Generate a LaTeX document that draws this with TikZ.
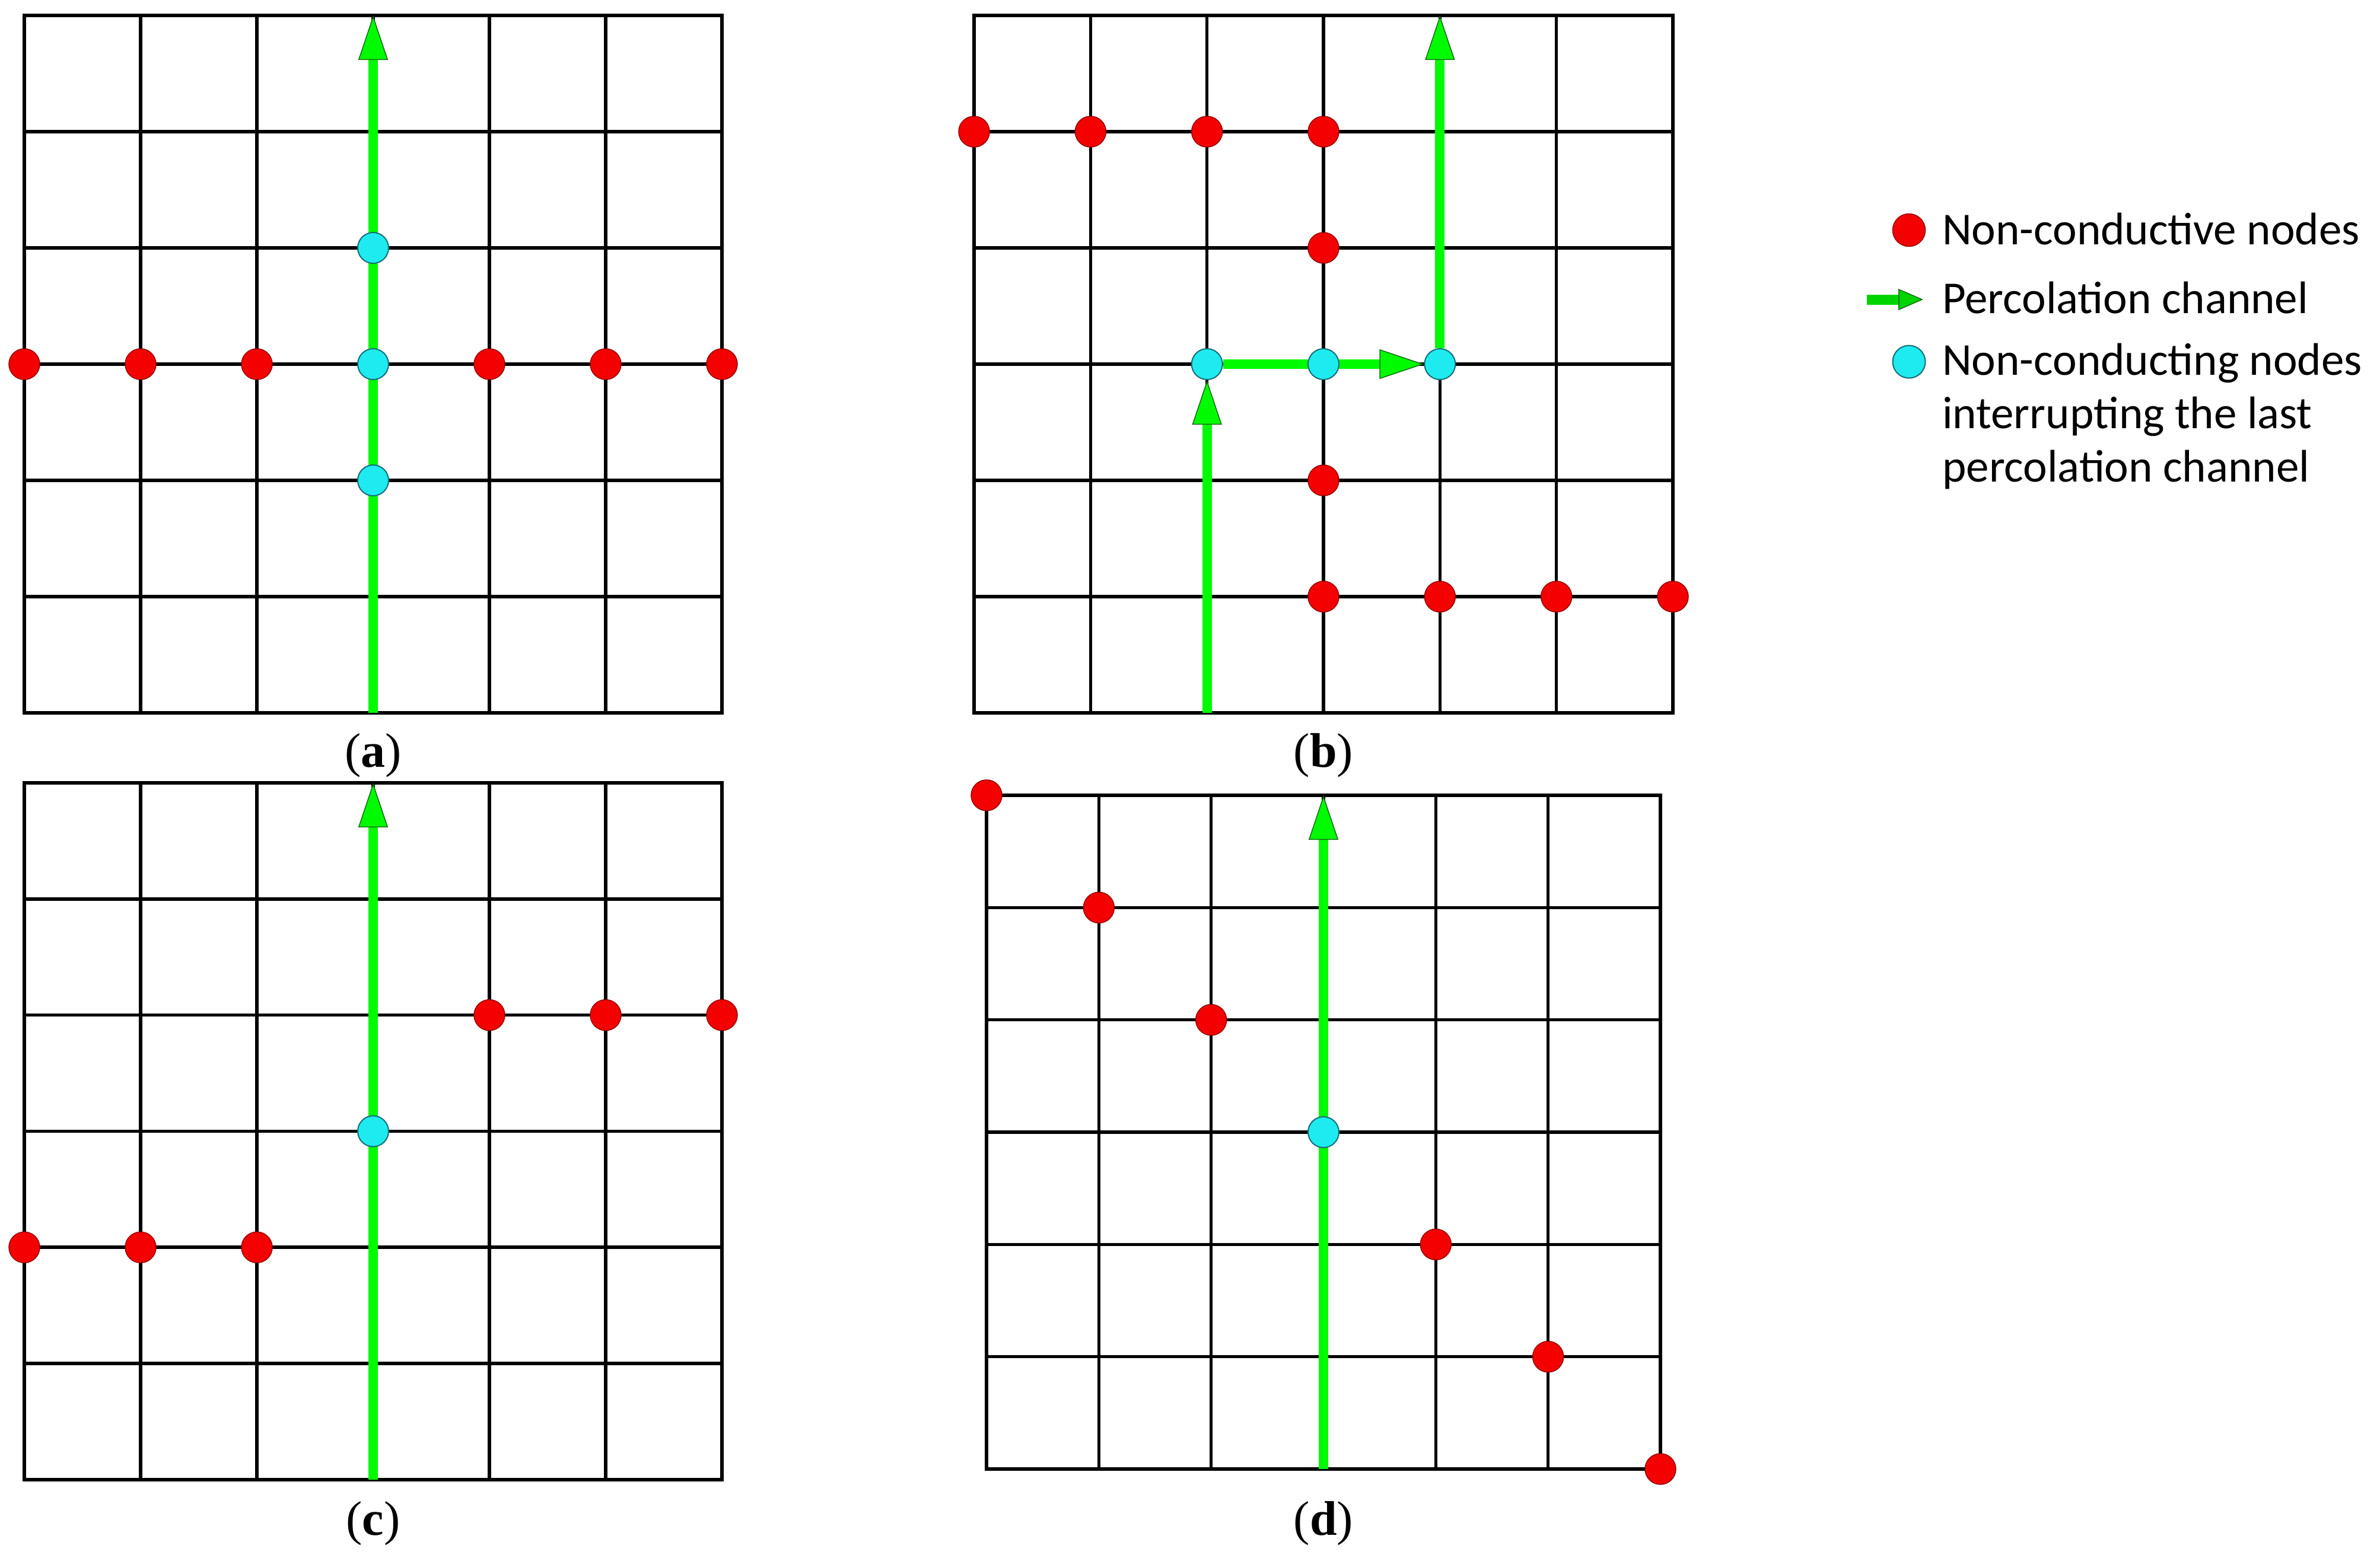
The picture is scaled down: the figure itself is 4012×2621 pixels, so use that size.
\documentclass[tikz,border=0pt]{standalone}
\usepackage{fontspec}
\setmainfont{Carlito}
\newfontfamily\labfont{Liberation Serif}
\usetikzlibrary{arrows.meta,backgrounds}
\definecolor{chgreen}{RGB}{0,250,0}
\definecolor{chdark}{RGB}{20,110,20}
\definecolor{rfill}{RGB}{245,0,0}
\definecolor{rdraw}{RGB}{150,0,0}
\definecolor{cfill}{RGB}{30,235,240}
\definecolor{cdraw}{RGB}{20,110,120}
\tikzset{
  gridline/.style={line width=5.5pt, black, line cap=rect},
  rdot/.style={circle, fill=rfill, draw=rdraw, line width=1.5pt, minimum size=52pt, inner sep=0pt},
  cdot/.style={circle, fill=cfill, draw=cdraw, line width=2pt, minimum size=52pt, inner sep=0pt},
  chan/.style={draw=chgreen, line width=16pt, -{Triangle[length=75pt,width=50pt,fill=chgreen,color=chdark,line width=1.5pt]}},
  legchan/.style={draw=chgreen!85!black, line width=17pt, -{Triangle[length=42pt,width=36pt,fill=chgreen!85!black,color=chdark,line width=1.5pt]}},
  legtext/.style={font=\fontsize{77}{90}\selectfont, inner sep=0pt},
  labtext/.style={font=\labfont\fontsize{82}{90}\selectfont, inner sep=0pt, anchor=base},
}
\newcommand\gridlines{%
  \foreach \i in {0,...,6} {
    \draw[gridline] (\i,0) -- (\i,6);
    \draw[gridline] (0,\i) -- (6,\i);
  }}
\begin{document}
\begin{tikzpicture}[x=1pt,y=-1pt]
\useasboundingbox (0,0) rectangle (4012,2621);
\begin{pgfonlayer}{background}
  \fill[white] (0,0) rectangle (4012,2621);
\end{pgfonlayer}

% ---------- panel (a)
\begin{scope}[shift={(41,26)}, x=196pt, y=-196pt]
  \node[rdot] (a-r1) at (0,3) {};
  \node[rdot] (a-r2) at (1,3) {};
  \node[rdot] (a-r3) at (2,3) {};
  \node[rdot] (a-r4) at (4,3) {};
  \node[rdot] (a-r5) at (5,3) {};
  \node[rdot] (a-r6) at (6,3) {};
  \node[cdot] (a-c1) at (3,2) {};
  \node[cdot] (a-c2) at (3,3) {};
  \node[cdot] (a-c3) at (3,4) {};
  \coordinate (a-bot) at (3,6);
  \coordinate (a-top) at (3,0);
  \begin{pgfonlayer}{background}
    \gridlines
    \draw[chan] (a-bot) -- (a-top);
  \end{pgfonlayer}
\end{scope}

% ---------- panel (b)
\begin{scope}[shift={(1642,26)}, x=196.33pt, y=-196pt]
  \node[rdot] (b-r1) at (0,1) {};
  \node[rdot] (b-r2) at (1,1) {};
  \node[rdot] (b-r3) at (2,1) {};
  \node[rdot] (b-r4) at (3,1) {};
  \node[rdot] (b-r5) at (3,2) {};
  \node[rdot] (b-r6) at (3,4) {};
  \node[rdot] (b-r7) at (3,5) {};
  \node[rdot] (b-r8) at (4,5) {};
  \node[rdot] (b-r9) at (5,5) {};
  \node[rdot] (b-r10) at (6,5) {};
  \node[cdot] (b-c1) at (2,3) {};
  \node[cdot] (b-c2) at (3,3) {};
  \node[cdot] (b-c3) at (4,3) {};
  \coordinate (b-bot) at (2,6);
  \coordinate (b-top) at (4,0);
  \begin{pgfonlayer}{background}
    \gridlines
    \draw[chan] (b-bot) -- (b-c1);
    \draw[chan] (b-c1) -- (b-c3);
    \draw[chan] (b-c3) -- (b-top);
  \end{pgfonlayer}
\end{scope}

% ---------- panel (c)
\begin{scope}[shift={(41,1320)}, x=196pt, y=-195.8pt]
  \node[rdot] (c-r1) at (4,2) {};
  \node[rdot] (c-r2) at (5,2) {};
  \node[rdot] (c-r3) at (6,2) {};
  \node[rdot] (c-r4) at (0,4) {};
  \node[rdot] (c-r5) at (1,4) {};
  \node[rdot] (c-r6) at (2,4) {};
  \node[cdot] (c-c1) at (3,3) {};
  \coordinate (c-bot) at (3,6);
  \coordinate (c-top) at (3,0);
  \begin{pgfonlayer}{background}
    \gridlines
    \draw[chan] (c-bot) -- (c-top);
  \end{pgfonlayer}
\end{scope}

% ---------- panel (d)
\begin{scope}[shift={(1663,1341)}, x=189.33pt, y=-189.33pt]
  \node[rdot] (d-r1) at (0,0) {};
  \node[rdot] (d-r2) at (1,1) {};
  \node[rdot] (d-r3) at (2,2) {};
  \node[rdot] (d-r4) at (4,4) {};
  \node[rdot] (d-r5) at (5,5) {};
  \node[rdot] (d-r6) at (6,6) {};
  \node[cdot] (d-c1) at (3,3) {};
  \coordinate (d-bot) at (3,6);
  \coordinate (d-top) at (3,0);
  \begin{pgfonlayer}{background}
    \gridlines
    \draw[chan] (d-bot) -- (d-top);
  \end{pgfonlayer}
\end{scope}

% ---------- sub-figure labels
\node[labtext] (lab-a) at (629,1293) {(\textbf{a})};
\node[labtext] (lab-b) at (2231,1293) {(\textbf{b})};
\node[labtext] (lab-c) at (629,2588) {(\textbf{c})};
\node[labtext] (lab-d) at (2231,2588) {(\textbf{d})};

% ---------- legend
\node[rdot, minimum size=55pt] (leg-r) at (3218,388) {};
\coordinate (leg-a1) at (3147,505);
\coordinate (leg-a2) at (3242,505);
\draw[legchan] (leg-a1) -- (leg-a2);
\node[cdot, minimum size=55pt] (leg-c) at (3218,610) {};
\node[legtext, anchor=base west] (leg-t1) at (3274,412) {Non-conductive nodes};
\node[legtext, anchor=base west] (leg-t2) at (3274,528) {Percolation channel};
\node[legtext, anchor=base west, align=left] (leg-t3) at (3274,812) {Non-conducting nodes\\interrupting the last\\percolation channel};
\end{tikzpicture}
\end{document}
